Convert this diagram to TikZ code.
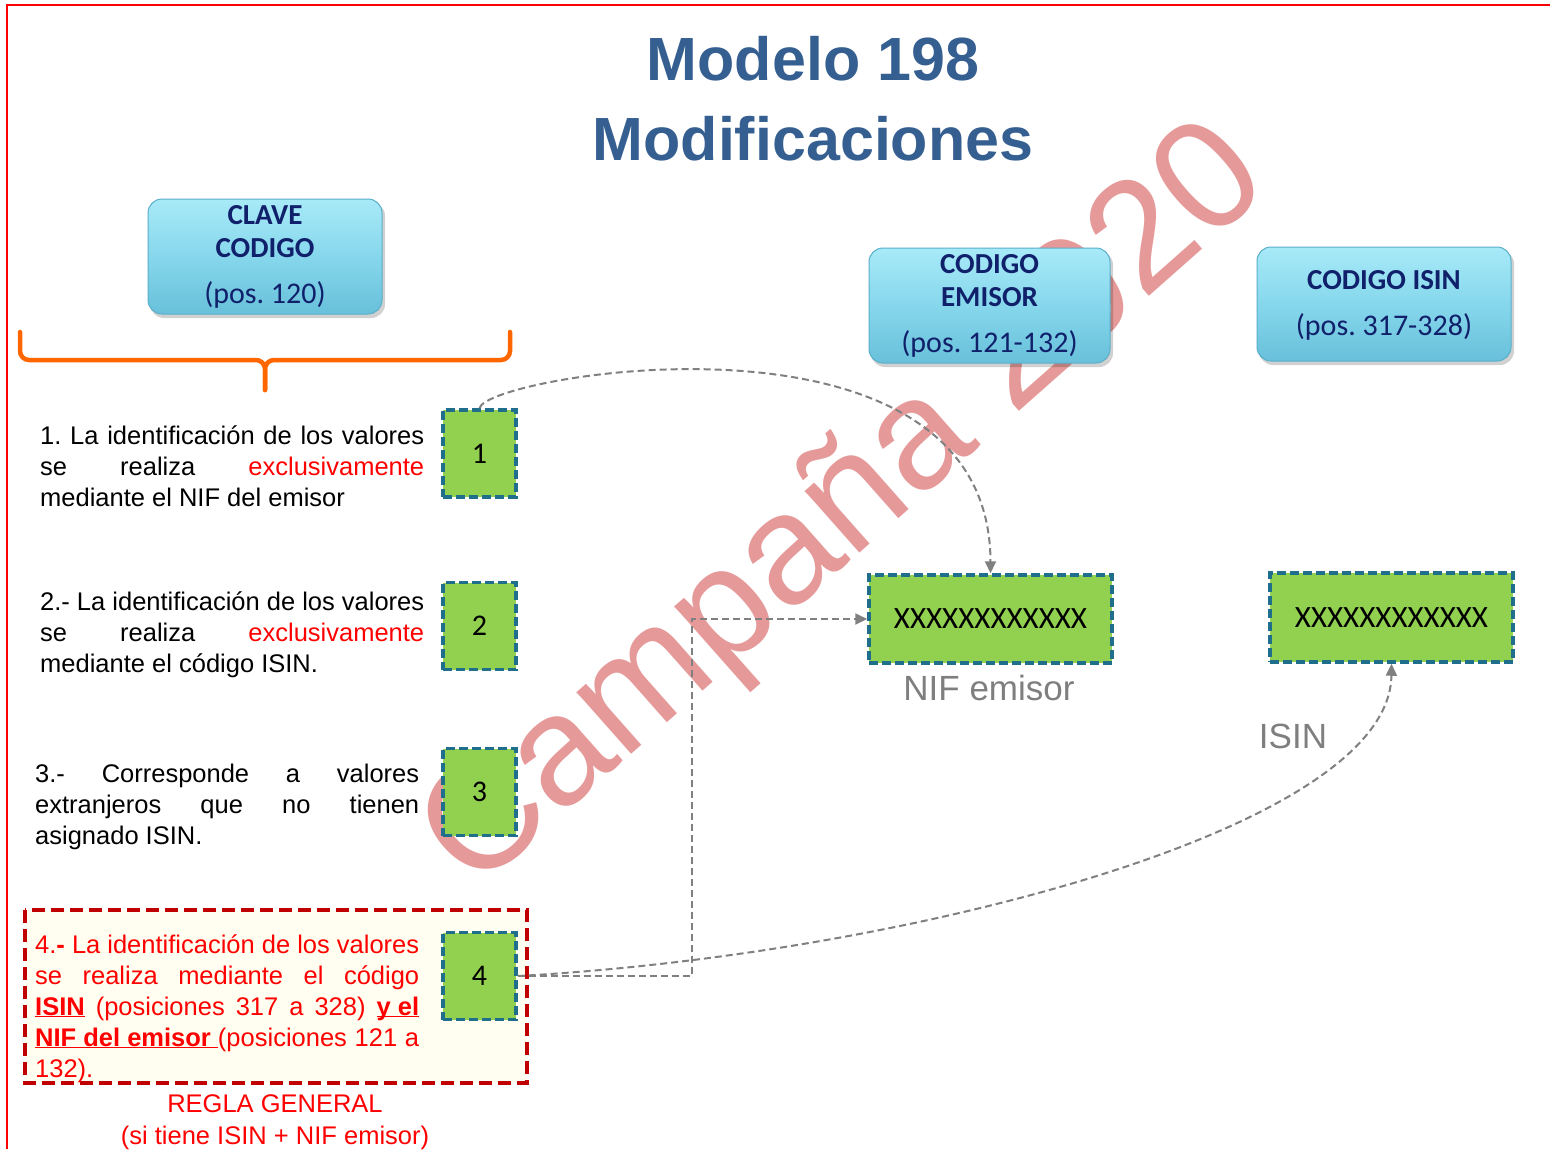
\documentclass[tikz,border=0pt]{standalone}
\usepackage{fontspec}
\setmainfont{Liberation Sans}
\newfontfamily\calfont{Carlito}
\usetikzlibrary{arrows.meta}
\definecolor{titleblue}{HTML}{365F91}
\definecolor{navytxt}{HTML}{10206A}
\definecolor{boxtop}{HTML}{A8EAF8}
\definecolor{boxmid}{HTML}{86D7EC}
\definecolor{boxbot}{HTML}{68C0DA}
\definecolor{boxedge}{HTML}{5AAFCB}
\definecolor{greenf}{HTML}{92D050}
\definecolor{tealb}{HTML}{1F6E8C}
\definecolor{connGray}{HTML}{808080}
\definecolor{wmark}{HTML}{E69999}
\definecolor{braceor}{HTML}{FF6600}
\definecolor{darkred}{HTML}{C00000}
\definecolor{cream}{HTML}{FFFEF0}
\definecolor{txtred}{HTML}{FF0000}
\definecolor{graytxt}{HTML}{7F7F7F}
\newcommand{\myul}[1]{\underline{\smash{#1}}}
\begin{document}
\frenchspacing
\begin{tikzpicture}[x=1pt,y=-1pt,
  bluebox/.style={rounded corners=14pt, draw=boxedge, line width=1pt,
    top color=boxtop, bottom color=boxbot, middle color=boxmid, inner sep=0pt},
  boxshadow/.style={rounded corners=14pt, fill=black, opacity=0.18, inner sep=0pt},
  bluetxt/.style={anchor=base, inner sep=0pt, text=navytxt, font={\calfont\bfseries\fontsize{29}{33}\selectfont}},
  bluepos/.style={anchor=base, inner sep=0pt, text=navytxt, font={\calfont\fontsize{30}{36}\selectfont}},
  greenbox/.style={draw=tealb, fill=greenf, line width=3.5pt, dash pattern=on 9pt off 4pt,
    inner sep=0pt, font={\calfont\fontsize{30}{36}\selectfont}},
  numbox/.style={greenbox, minimum width=73pt, minimum height=87pt},
  valbox/.style={greenbox, minimum width=243pt, minimum height=88pt, font={\calfont\fontsize{31}{36}\selectfont}},
  para/.style={anchor=base west, text width=384pt, align=justify, inner sep=0pt,
    font={\fontsize{25.5}{31}\selectfont}},
  redline/.style={anchor=base, inner sep=0pt, text=txtred, font={\fontsize{25.5}{31}\selectfont}},
  conn/.style={draw=connGray, line width=2pt, dash pattern=on 7pt off 4pt},
  tip/.style={-{Triangle[length=12pt,width=11pt]}},
  bracestyle/.style={draw=braceor, line width=4.5pt, line cap=round, rounded corners=9pt},
  graylabel/.style={anchor=base, inner sep=0pt, text=graytxt, font={\fontsize{35}{40}\selectfont}}
]
\useasboundingbox (0,0) rectangle (1550,1149);
\fill[white] (0,0) rectangle (1550,1149);
\draw[red, line width=1.5pt] (7,1149) -- (7,5) -- (1550,5);

% watermark
\node[anchor=base, rotate=41.5, inner sep=0pt, text=wmark, font={\fontsize{156}{166}\selectfont}] (wm) at (874,540) {Campaña 2020};

% title
\node[anchor=base, inner sep=0pt, text=titleblue, font={\bfseries\fontsize{61}{73}\selectfont}] (title1) at (813,80) {Modelo 198};
\node[anchor=base, inner sep=0pt, text=titleblue, font={\bfseries\fontsize{61}{73}\selectfont}] (title2) at (813,160) {Modificaciones};

% blue header boxes
\fill[boxshadow] (150,202) rectangle (385,318);
\node[bluebox, minimum width=234pt, minimum height=115pt] (clave) at (265,256.5) {};
\node[bluetxt] (clave1) at (265,224) {CLAVE};
\node[bluetxt] (clave2) at (265,257) {CODIGO};
\node[bluepos] (clave3) at (265,303) {(pos. 120)};

\fill[boxshadow] (871,251) rectangle (1113,367);
\node[bluebox, minimum width=241pt, minimum height=115pt] (emisor) at (989.5,305.5) {};
\node[bluetxt] (emisor1) at (989.5,273) {CODIGO};
\node[bluetxt] (emisor2) at (989.5,306) {EMISOR};
\node[bluepos] (emisor3) at (989.5,352) {(pos. 121-132)};

\fill[boxshadow] (1259,250) rectangle (1514,365);
\node[bluebox, minimum width=254pt, minimum height=114pt] (isinh) at (1384,304) {};
\node[bluetxt] (isinh1) at (1384,289) {CODIGO ISIN};
\node[bluepos] (isinh2) at (1384,335) {(pos. 317-328)};

% orange brace
\draw[bracestyle] (20,332) -- (20,360) -- (265,360) -- (265,390);
\draw[bracestyle] (510,332) -- (510,360) -- (265,360) -- (265,390);

% red dashed rule box
\draw[draw=darkred, fill=cream, line width=4.5pt, dash pattern=on 13pt off 6pt] (25,910) rectangle (527,1083);

% paragraphs
\node[para] (t1) at (40,444) {1. La identificación de los valores\linebreak se realiza \textcolor{txtred}{exclusivamente}\linebreak mediante el NIF del emisor};
\node[para] (t2) at (40,610) {2.- La identificación de los valores\linebreak se realiza \textcolor{txtred}{exclusivamente}\linebreak mediante el código ISIN.};
\node[para] (t3) at (35,782) {3.- Corresponde a valores\linebreak extranjeros que no tienen\linebreak asignado ISIN.};
\node[para, text=txtred] (t4) at (35,953) {4.\textbf{-} La identificación de los valores\linebreak se realiza mediante el código\linebreak \myul{\textbf{ISIN}} (posiciones 317 a 328) \myul{\textbf{y el}}\linebreak \myul{\textbf{NIF del emisor}\ }(posiciones 121 a\linebreak 132).};

\node[redline] (regla1) at (275,1112) {REGLA GENERAL};
\node[redline] (regla2) at (275,1144) {(si tiene ISIN + NIF emisor)};

% number boxes
\node[numbox] (b1) at (479.5,453.5) {1};
\node[numbox] (b2) at (479.5,626) {2};
\node[numbox] (b3) at (479.5,792) {3};
\node[numbox] (b4) at (479.5,976) {4};

% value boxes
\node[valbox] (nif) at (990.5,619) {XXXXXXXXXXXX};
\node[valbox, minimum height=89pt] (isinv) at (1391.5,617.5) {XXXXXXXXXXXX};

\node[graylabel] (nifl) at (989,700) {NIF emisor};
\node[graylabel] (isinl) at (1293,748) {ISIN};

% connectors
\coordinate (elbow) at (692,619);
\draw[conn, tip] (b1.north) .. controls (485,375) and (990,290) .. (nif.north);
\draw[conn, tip] (b4.east) -| (elbow) -- (nif.west);
\draw[conn, tip] (b4.east) .. controls (900,955) and (1390,830) .. (isinv.south);
\end{tikzpicture}
\end{document}
